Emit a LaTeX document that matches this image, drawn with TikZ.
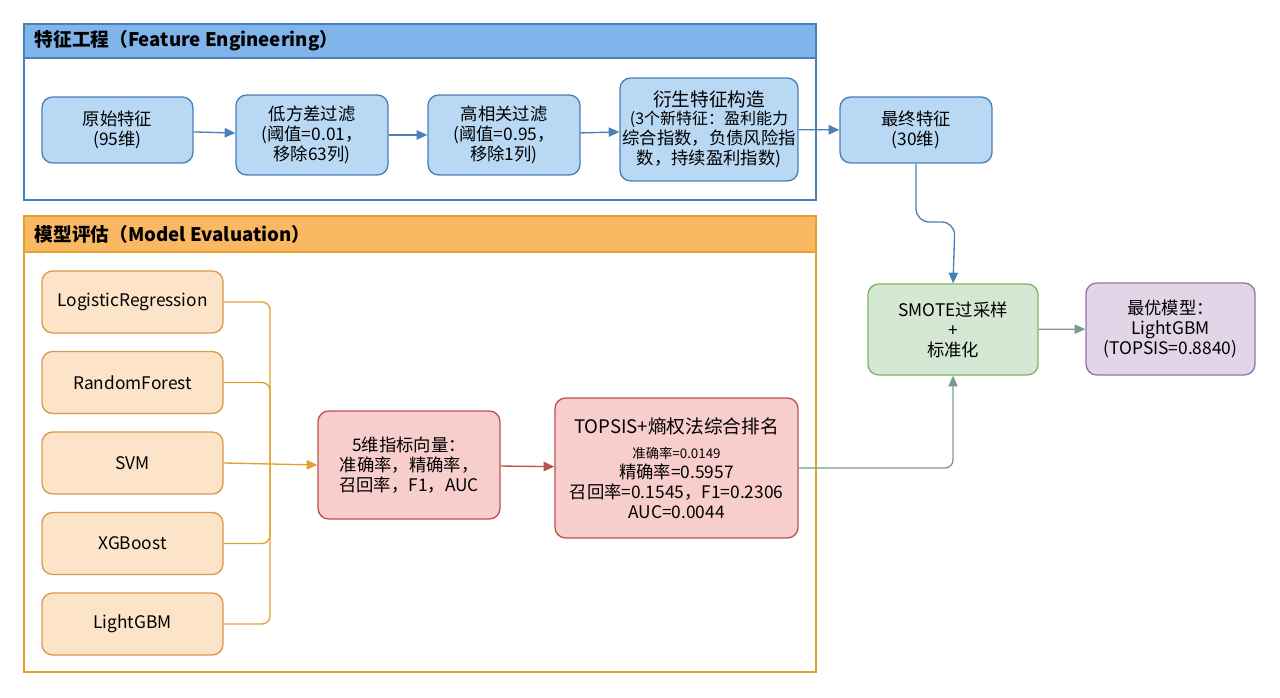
\documentclass[tikz,border=0pt]{standalone}
\usepackage{fontspec}
\setmainfont{Noto Sans CJK SC}
\usetikzlibrary{arrows.meta}
\definecolor{bfill}{HTML}{B9D8F3}\definecolor{bline}{HTML}{4A80B8}
\definecolor{btitle}{HTML}{7FB5EA}
\definecolor{ofill}{HTML}{FDE4C8}\definecolor{oline}{HTML}{D99A4E}
\definecolor{otitle}{HTML}{F9B862}\definecolor{oline2}{HTML}{E3A030}
\definecolor{rfill}{HTML}{F8CECC}\definecolor{rline}{HTML}{B85450}
\definecolor{gfill}{HTML}{D5E8D4}\definecolor{gline}{HTML}{82B366}
\definecolor{pfill}{HTML}{E1D5E7}\definecolor{pline}{HTML}{9673A6}
\definecolor{cgray}{HTML}{7A9A8A}
\begin{document}
\begin{tikzpicture}[x=0.75pt,y=-0.75pt,
 box/.style={draw,rounded corners=8pt,line width=1pt,align=center,inner sep=2pt,font=\fontsize{13}{15}\selectfont},
 bb/.style={box,fill=bfill,draw=bline},
 ob/.style={box,fill=ofill,draw=oline},
 ar/.style={-{Triangle[length=8pt,width=7pt]},line width=1pt}]
\useasboundingbox (0,0) rectangle (1280,698);
% panels
\draw[bline,line width=1pt,fill=white] (24,24) rectangle (816,200);
\draw[bline,line width=1pt,fill=btitle] (24,24) rectangle (816,58);
\node[anchor=west,font=\bfseries\fontsize{14}{16}\selectfont] (t1) at (30,41) {特征工程（Feature Engineering）};
\draw[oline2,line width=1pt,fill=white] (24,216) rectangle (816,672);
\draw[oline2,line width=1pt,fill=otitle] (24,216) rectangle (816,252);
\node[anchor=west,font=\bfseries\fontsize{14}{16}\selectfont] (t2) at (30,234) {模型评估（Model Evaluation）};
% feature nodes
\node[bb,minimum width=151*0.75pt,minimum height=66*0.75pt] (a) at (117.5,130) {原始特征\\(95维)};
\node[bb,minimum width=152*0.75pt,minimum height=80*0.75pt] (b) at (312,135) {低方差过滤\\(阈值=0.01，\\移除63列)};
\node[bb,minimum width=152*0.75pt,minimum height=80*0.75pt] (c) at (504,135) {高相关过滤\\(阈值=0.95，\\移除1列)};
\node[bb,minimum width=178*0.75pt,minimum height=103*0.75pt,inner sep=0pt] (d) at (709,129.5) {{\fontsize{14}{15}\selectfont 衍生特征构造}\\[-1pt]\fontsize{12}{14}\selectfont(3个新特征：盈利能力\\综合指数，负债风险指\\数，持续盈利指数)};
\node[bb,minimum width=152*0.75pt,minimum height=66*0.75pt] (e) at (916,130) {最终特征\\(30维)};
\foreach \u/\v in {a/b,b/c,c/d,d/e} \draw[ar,bline] (\u) -- (\v);
% model nodes
\foreach \n/\t/\y in {m1/LogisticRegression/302,m2/RandomForest/382.5,m3/SVM/463,m4/XGBoost/543.5,m5/LightGBM/624}
 \node[ob,minimum width=181*0.75pt,minimum height=62*0.75pt] (\n) at (132.5,\y) {\t};
\node[box,fill=rfill,draw=rline,minimum width=182*0.75pt,minimum height=108*0.75pt] (f) at (409,465) {5维指标向量：\\准确率，精确率，\\召回率，F1，AUC};
\node[box,fill=rfill,draw=rline,minimum width=243*0.75pt,minimum height=140*0.75pt] (g) at (676.5,468) {{\fontsize{14}{17}\selectfont TOPSIS+熵权法综合排名}\\[4pt]\fontsize{10}{12.5}\selectfont 准确率=0.0149\\ 精确率=0.5957\\ 召回率=0.1545，F1=0.2306\\ AUC=0.0044};
\node[box,fill=gfill,draw=gline,minimum width=170*0.75pt,minimum height=91*0.75pt] (s) at (953,329.5) {SMOTE过采样\\+\\标准化};
\node[box,fill=pfill,draw=pline,minimum width=169*0.75pt,minimum height=92*0.75pt] (p) at (1170.5,329) {最优模型：\\LightGBM\\(TOPSIS=0.8840)};
\coordinate (j) at (270,465);
\foreach \n in {m1,m2,m4,m5} \draw[oline2,line width=1pt,rounded corners=6pt] (\n.east) -| (j);
\draw[ar,oline2] (m3.east) -- (f.west);
\draw[ar,rline] (f) -- (g);
\draw[ar,cgray,rounded corners=6pt] (g.east) -| (s.south);
\draw[ar,bline,rounded corners=10pt] (e.south) |- (955,222) -- (s.north);
\draw[ar,cgray] (s) -- (p);
\end{tikzpicture}
\end{document}
